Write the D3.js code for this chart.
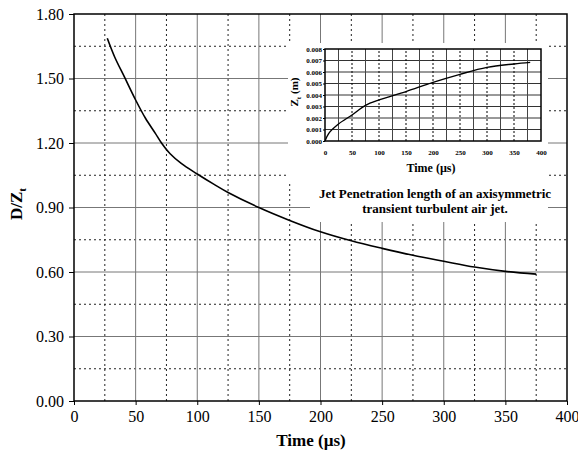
<!DOCTYPE html>
<html>
<head>
<meta charset="utf-8">
<script src="https://cdn.jsdelivr.net/npm/d3@7"></script>
<style>
  body { margin: 0; background: #fff; }
  svg { font-family: "Liberation Serif", "Times New Roman", serif; }
</style>
</head>
<body>
<script>
// D/Zt against time (main plot)
const timeMain = [27, 33, 41, 50, 58, 66, 71, 78, 87, 100, 113, 125, 150, 175, 200, 225, 250, 275, 300, 325, 350, 375];
const ratioMain = [1.687, 1.60, 1.506, 1.40, 1.315, 1.245, 1.20, 1.15, 1.105, 1.056, 1.01, 0.97, 0.90, 0.84, 0.787, 0.745, 0.71, 0.678, 0.65, 0.623, 0.603, 0.59];

// penetration length Zt (m) against time (inset)
const timeInset = [0, 7, 25, 50, 75, 100, 150, 200, 250, 300, 350, 380];
const ztInset = [0, 0.00067, 0.00148, 0.00226, 0.0031, 0.00357, 0.0043, 0.0051, 0.0058, 0.0064, 0.0067, 0.00684];

const mainYTicks = [0, 0.30, 0.60, 0.90, 1.20, 1.50, 1.80];
const mainXTicks = [0, 50, 100, 150, 200, 250, 300, 350, 400];
const insetYTicks = [0, 0.001, 0.002, 0.003, 0.004, 0.005, 0.006, 0.007, 0.008];
const insetXTicks = [0, 50, 100, 150, 200, 250, 300, 350, 400];
const caption = ["Jet Penetration length of an axisymmetric", "transient turbulent air jet."];

const W = 578, H = 456;
const svg = d3.select("body").append("svg").attr("width", W).attr("height", H);

// ---- main plot ----
const x = d3.scaleLinear().domain([0, 400]).range([74, 567]);
const y = d3.scaleLinear().domain([0, 1.80]).range([401, 14]);

const grid = svg.append("g");
d3.range(0, 1.80001, 0.15).forEach((v, i) => {
  if (v === 0 || Math.abs(v - 1.8) < 1e-6) return;
  const major = i % 2 === 0;
  grid.append("line")
    .attr("x1", x(0)).attr("x2", x(400)).attr("y1", y(v)).attr("y2", y(v))
    .attr("stroke", major ? "#777" : "#222")
    .attr("stroke-width", 1)
    .attr("stroke-dasharray", major ? null : "2,3");
});
d3.range(0, 400.001, 25).forEach((v, i) => {
  if (v === 0 || v === 400) return;
  const major = i % 2 === 0;
  grid.append("line")
    .attr("x1", x(v)).attr("x2", x(v)).attr("y1", y(0)).attr("y2", y(1.8))
    .attr("stroke", major ? "#777" : "#222")
    .attr("stroke-width", 1)
    .attr("stroke-dasharray", major ? null : "2,3");
});

// frame
svg.append("rect")
  .attr("x", x(0)).attr("y", y(1.8))
  .attr("width", x(400) - x(0)).attr("height", y(0) - y(1.8))
  .attr("fill", "none").attr("stroke", "#000").attr("stroke-width", 1.5);

const yAxis = svg.append("g")
  .attr("transform", `translate(${x(0)},0)`)
  .call(d3.axisLeft(y).tickValues(mainYTicks).tickFormat(d3.format(".2f")).tickSize(5));
const xAxis = svg.append("g")
  .attr("transform", `translate(0,${y(0)})`)
  .call(d3.axisBottom(x).tickValues(mainXTicks).tickFormat(d3.format("d")).tickSize(4));
[yAxis, xAxis].forEach(a => {
  a.select(".domain").remove();
  a.selectAll("text").attr("font-size", 16).attr("fill", "#000")
    .attr("font-family", "Liberation Serif");
  a.selectAll("line").attr("stroke", "#000");
});
yAxis.selectAll("text").attr("x", -10);
xAxis.selectAll("text").attr("y", 10);

const mainPts = timeMain.map((t, i) => [t, ratioMain[i]]);
svg.append("path")
  .datum(mainPts)
  .attr("fill", "none").attr("stroke", "#000").attr("stroke-width", 1.6)
  .attr("d", d3.line().x(d => x(d[0])).y(d => y(d[1])).curve(d3.curveCatmullRom.alpha(0.5)));

// axis titles
svg.append("text")
  .attr("x", 311).attr("y", 446)
  .attr("text-anchor", "middle").attr("font-size", 17).attr("font-weight", "bold")
  .text("Time (µs)");

const yt = svg.append("text")
  .attr("transform", "translate(22,204) rotate(-90)")
  .attr("text-anchor", "middle").attr("font-size", 17).attr("font-weight", "bold");
yt.append("tspan").text("D/Z");
yt.append("tspan").attr("font-size", 11).attr("dy", 4).text("t");

// ---- inset ----
svg.append("rect").attr("x", 288).attr("y", 43).attr("width", 260).attr("height", 140).attr("fill", "#fff");
svg.append("rect").attr("x", 310).attr("y", 180).attr("width", 238).attr("height", 42).attr("fill", "#fff");

const xi = d3.scaleLinear().domain([0, 400]).range([325, 541]);
const yi = d3.scaleLinear().domain([0, 0.008]).range([141, 49]);

const igrid = svg.append("g");
insetYTicks.slice(1, -1).forEach(v => {
  igrid.append("line")
    .attr("x1", xi(0)).attr("x2", xi(400)).attr("y1", yi(v)).attr("y2", yi(v))
    .attr("stroke", "#333").attr("stroke-width", 1);
});
d3.range(25, 400, 25).forEach((v, i) => {
  const solid = i % 2 === 0;
  igrid.append("line")
    .attr("x1", xi(v)).attr("x2", xi(v)).attr("y1", yi(0)).attr("y2", yi(0.008))
    .attr("stroke", solid ? "#444" : "#000").attr("stroke-width", 1)
    .attr("stroke-dasharray", solid ? null : "2,2");
});
svg.append("rect")
  .attr("x", xi(0)).attr("y", yi(0.008))
  .attr("width", xi(400) - xi(0)).attr("height", yi(0) - yi(0.008))
  .attr("fill", "none").attr("stroke", "#000").attr("stroke-width", 1.5);

const iy = svg.append("g")
  .attr("transform", `translate(${xi(0)},0)`)
  .call(d3.axisLeft(yi).tickValues(insetYTicks).tickFormat(d3.format(".3f")).tickSize(2));
const ix = svg.append("g")
  .attr("transform", `translate(0,${yi(0)})`)
  .call(d3.axisBottom(xi).tickValues(insetXTicks).tickFormat(d3.format("d")).tickSize(0));
[iy, ix].forEach(a => {
  a.select(".domain").remove();
  a.selectAll("text").attr("font-size", 7).attr("font-weight", "bold").attr("fill", "#000")
    .attr("font-family", "Liberation Serif");
  a.selectAll("line").attr("stroke", "#000");
});
iy.selectAll("text").attr("x", -3);
ix.selectAll("text").attr("y", 9);

const insetPts = timeInset.map((t, i) => [t, ztInset[i]]);
svg.append("path")
  .datum(insetPts)
  .attr("fill", "none").attr("stroke", "#000").attr("stroke-width", 1.4)
  .attr("d", d3.line().x(d => xi(d[0])).y(d => yi(d[1])).curve(d3.curveCatmullRom.alpha(0.5)));

svg.append("text")
  .attr("x", 431).attr("y", 172)
  .attr("text-anchor", "middle").attr("font-size", 12).attr("font-weight", "bold")
  .text("Time (µs)");

const zt = svg.append("text")
  .attr("transform", "translate(298,92) rotate(-90)")
  .attr("text-anchor", "middle").attr("font-size", 11).attr("font-weight", "bold");
zt.append("tspan").text("Z");
zt.append("tspan").attr("font-size", 7).attr("dy", 3).text("t");
zt.append("tspan").attr("dy", -3).text(" (m)");

caption.forEach((line, i) => {
  svg.append("text")
    .attr("x", 435).attr("y", 198 + i * 14.5)
    .attr("text-anchor", "middle").attr("font-size", 13).attr("font-weight", "bold")
    .text(line);
});
</script>
</body>
</html>
